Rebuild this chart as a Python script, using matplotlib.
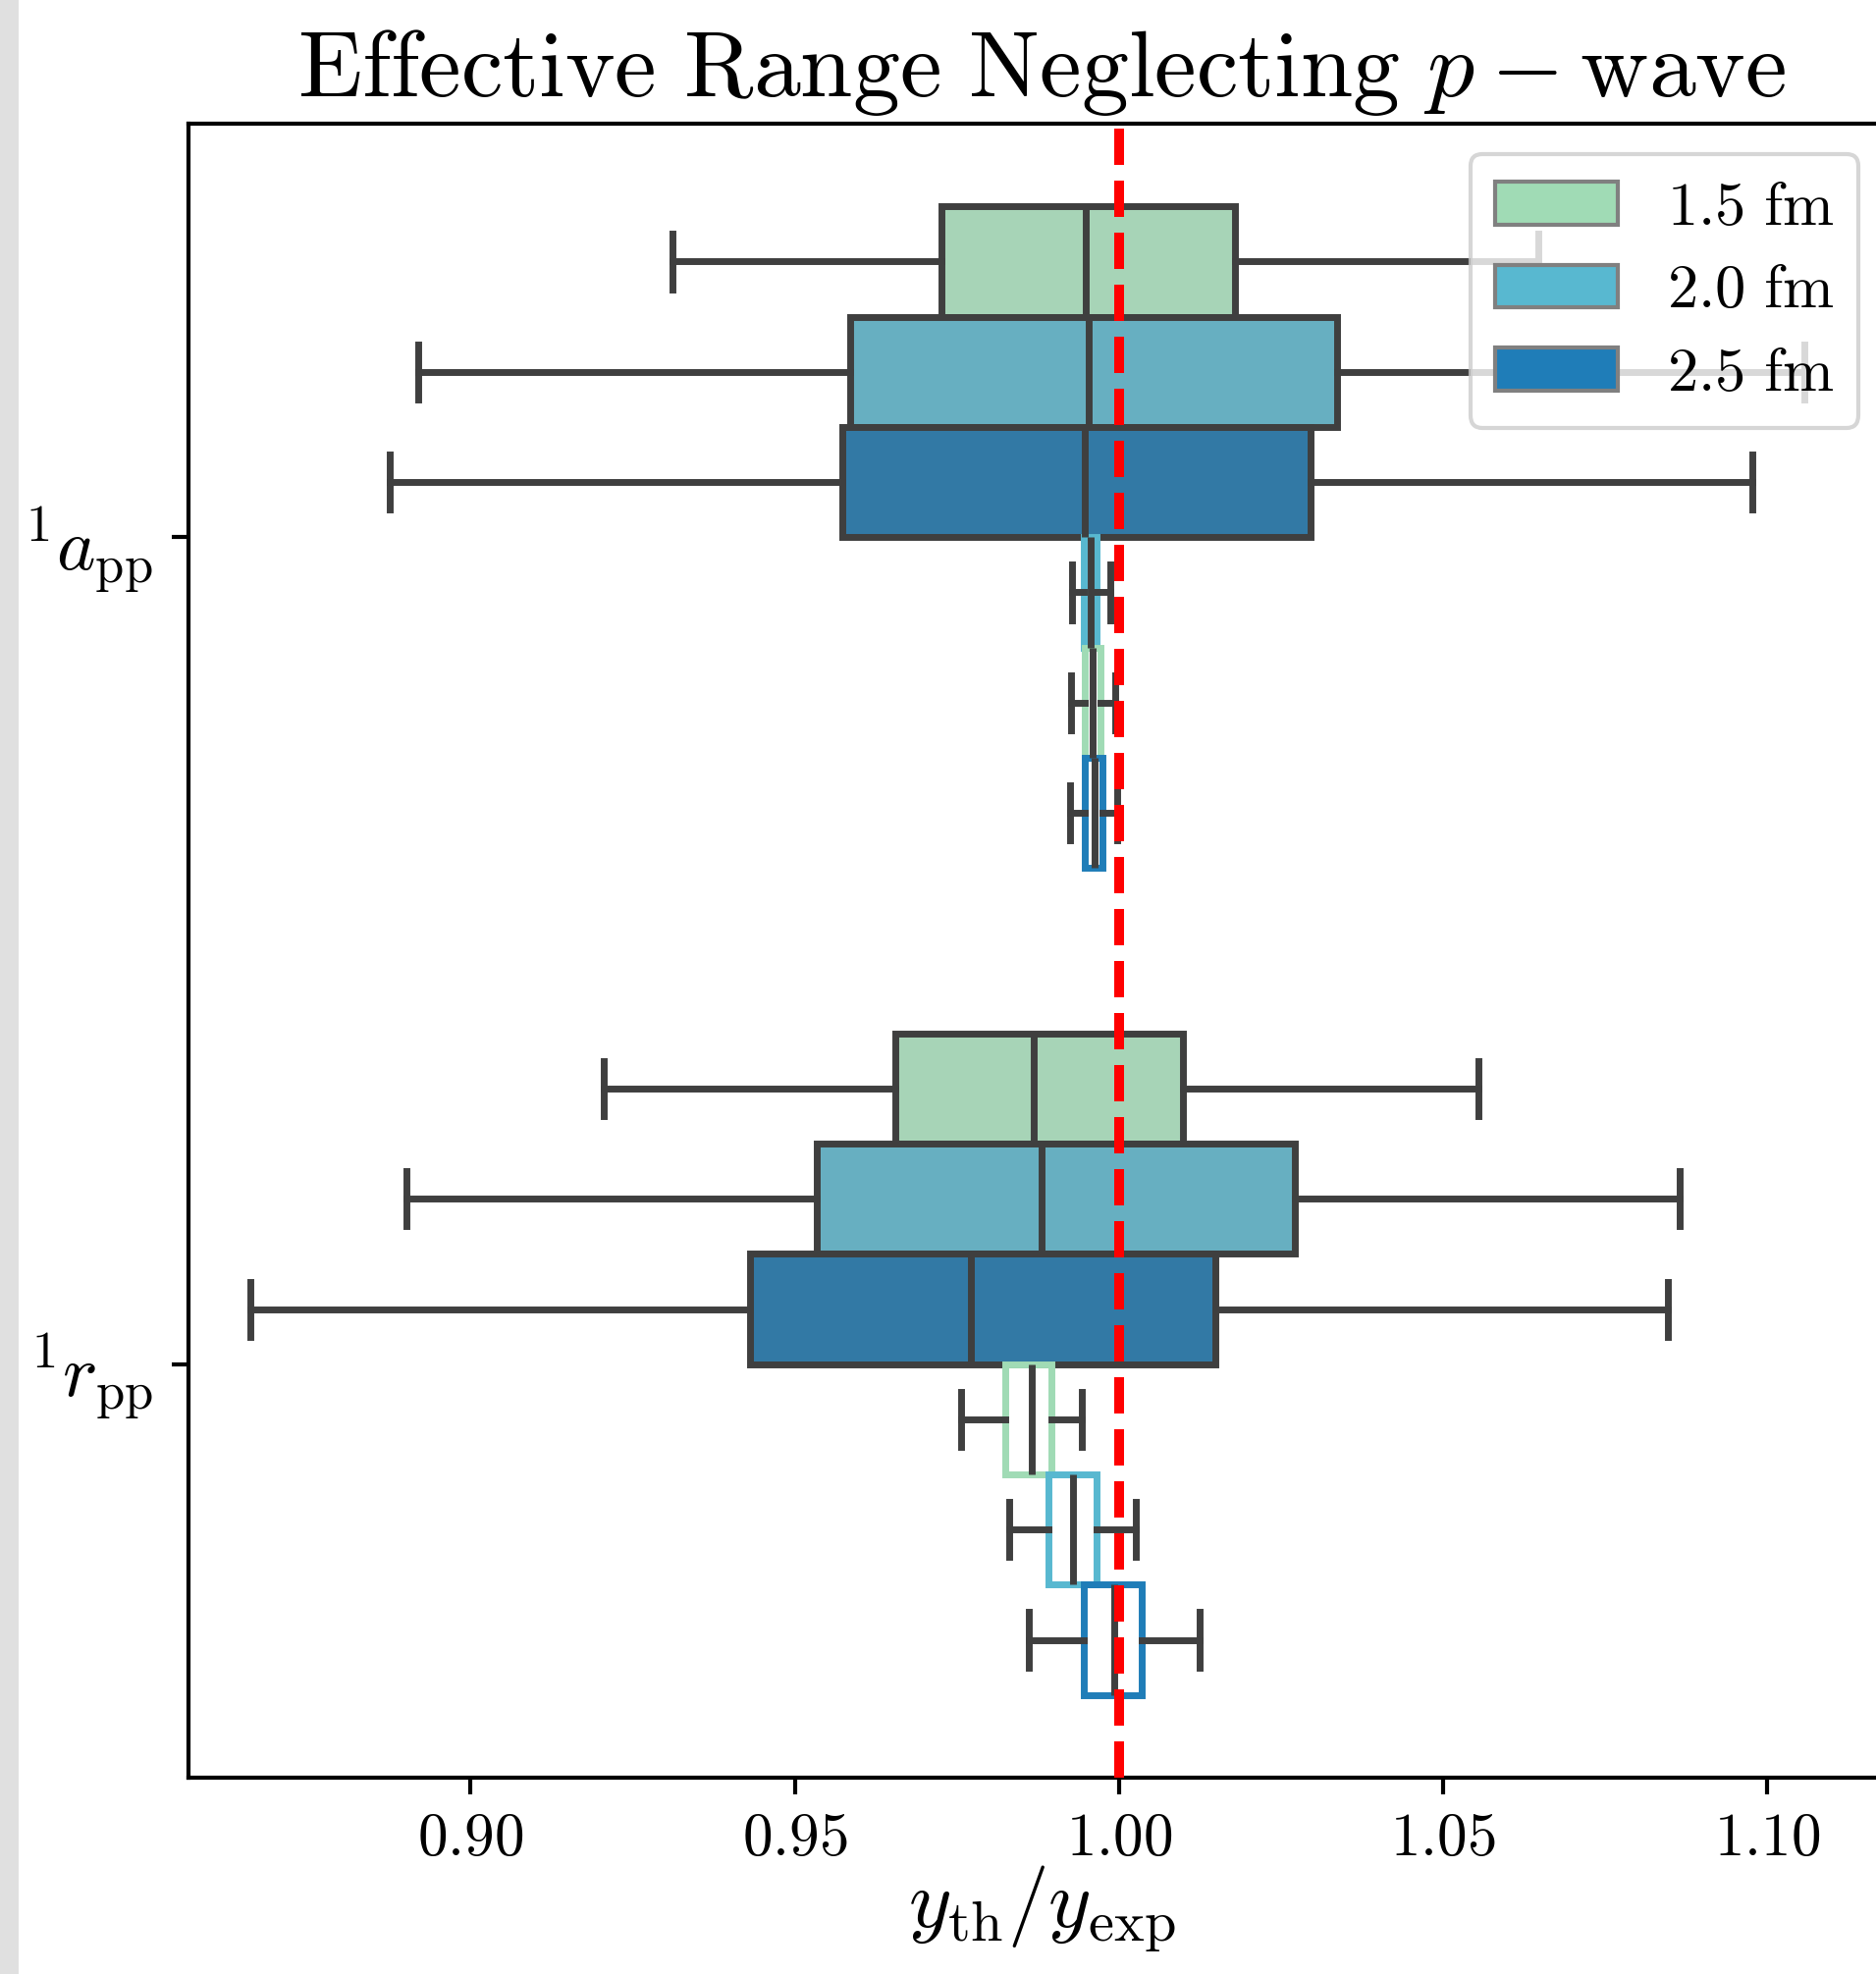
import colorsys
import matplotlib
matplotlib.use("Agg")
import matplotlib.pyplot as plt
from matplotlib.colors import to_rgb
from matplotlib.patches import Patch, Rectangle

plt.rcParams["mathtext.fontset"] = "cm"

# ---------------- data ----------------
categories = [r"${}^{1}a_{\mathrm{pp}}$", r"${}^{1}r_{\mathrm{pp}}$"]
hue_labels = [r"$1.5\ \mathrm{fm}$", r"$2.0\ \mathrm{fm}$", r"$2.5\ \mathrm{fm}$"]
hue_colors = ["#a0dbb5", "#58b8d0", "#1f7db8"]

# six dodged slots per category: colour index and filled / hollow
slot_color_idx = [[0, 1, 2, 1, 0, 2],
                  [0, 1, 2, 0, 1, 2]]
slot_filled = [True, True, True, False, False, False]

# 1a_pp statistics (six slots)
app_lo = [0.9312, 0.8919, 0.8875, 0.99276, 0.99264, 0.99242]
app_q1 = [0.9726, 0.9586, 0.9574, 0.99450, 0.99466, 0.99476]
app_med = [0.9948, 0.9953, 0.9947, 0.99561, 0.99587, 0.99620]
app_q3 = [1.0179, 1.0337, 1.0296, 0.99658, 0.99712, 0.99738]
app_hi = [1.0647, 1.1057, 1.0977, 0.99862, 0.99947, 0.99965]

# 1r_pp statistics (six slots)
rpp_lo = [0.9206, 0.8901, 0.8661, 0.97563, 0.98300, 0.98610]
rpp_q1 = [0.9655, 0.9534, 0.9431, 0.98243, 0.98909, 0.99454]
rpp_med = [0.9869, 0.9880, 0.9772, 0.98659, 0.99284, 0.99927]
rpp_q3 = [1.0098, 1.0271, 1.0148, 0.98963, 0.99655, 1.00351]
rpp_hi = [1.0554, 1.0865, 1.0847, 0.99428, 1.00256, 1.01240]

xtick_values = [0.90, 0.95, 1.00, 1.05, 1.10]
xtick_labels = ["0.90", "0.95", "1.00", "1.05", "1.10"]
reference_value = 1.0

title = r"$\mathrm{Effective\ Range\ Neglecting}\ p-\mathrm{wave}$"
xlabel = r"$y_{\mathrm{th}}/y_{\mathrm{exp}}$"

stats_by_cat = [
    (app_lo, app_q1, app_med, app_q3, app_hi),
    (rpp_lo, rpp_q1, rpp_med, rpp_q3, rpp_hi),
]

# ---------------- helpers ----------------
def desaturate(c, prop):
    r, g, b = to_rgb(c)
    h, l, s = colorsys.rgb_to_hls(r, g, b)
    return colorsys.hls_to_rgb(h, l, s * prop)

GRAY = "#3f3f3f"
LW = 2.5

W, H, DPI = 1911, 2011, 200
fig = plt.figure(figsize=(W / DPI, H / DPI), dpi=DPI)
fig.add_artist(Rectangle((0, 0), 19 / W, 1, transform=fig.transFigure,
                         facecolor="#e0e0e0", edgecolor="none", zorder=-5))

ax_left, ax_right, ax_top, ax_bottom = 192, 1930, 126, 1811
ax = fig.add_axes([ax_left / W, (H - ax_bottom) / H,
                   (ax_right - ax_left) / W, (ax_bottom - ax_top) / H])

nslots = 6
width = 0.8 / nslots
for ci, (lo, q1, med, q3, hi) in enumerate(stats_by_cat):
    for k in range(nslots):
        pos = ci - 0.4 + width * (k + 0.5)
        col = hue_colors[slot_color_idx[ci][k]]
        if slot_filled[k]:
            face, edge = desaturate(col, 0.75), GRAY
        else:
            face, edge = "none", col
        st = [dict(med=med[k], q1=q1[k], q3=q3[k], whislo=lo[k], whishi=hi[k], fliers=[])]
        ax.bxp(st, positions=[pos], widths=[width], orientation="horizontal",
               patch_artist=True, showfliers=False, manage_ticks=False,
               boxprops=dict(facecolor=face, edgecolor=edge, linewidth=LW),
               medianprops=dict(color=GRAY, linewidth=LW),
               whiskerprops=dict(color=GRAY, linewidth=LW),
               capprops=dict(color=GRAY, linewidth=LW))

ax.axvline(reference_value, color="red", linestyle="--", linewidth=3.6, zorder=5)

ax.set_ylim(1.5, -0.5)
ax.set_yticks(range(len(categories)), labels=categories)
ax.set_xlim(0.8565, 1 + (ax_right - 1139.8) / 6606)
ax.set_xticks(xtick_values, labels=[f"${t}$" for t in xtick_labels])
ax.tick_params(axis="both", length=6, width=1.5)
ax.tick_params(axis="x", labelsize=22, pad=6)
ax.tick_params(axis="y", labelsize=27, pad=7)
for sp in ax.spines.values():
    sp.set_linewidth(1.5)

ax.set_title(title, fontsize=34.5, pad=10)
ax.set_xlabel(xlabel, fontsize=30, labelpad=-2)

handles = [Patch(facecolor=c, edgecolor="#808080", linewidth=1.5, label=l)
           for c, l in zip(hue_colors, hue_labels)]
leg = ax.legend(handles=handles, loc="upper right",
                bbox_to_anchor=(1893 / W, 1 - 157 / H), bbox_transform=fig.transFigure,
                borderaxespad=0, fontsize=22.5, labelspacing=0.39,
                handlelength=2.0, handletextpad=0.8, borderpad=0.4)
leg.get_frame().set_linewidth(1.5)

fig.savefig("out.png", dpi=DPI)
